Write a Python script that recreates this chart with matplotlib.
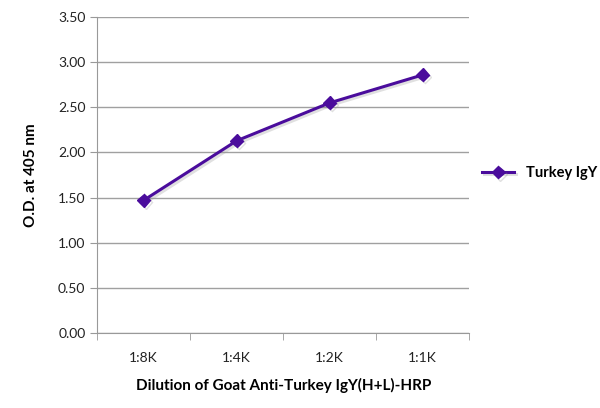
import matplotlib
matplotlib.use('Agg')
import matplotlib.pyplot as plt
import matplotlib.patheffects as pe

dilutions = ['1:8K', '1:4K', '1:2K', '1:1K']
od_405 = [1.47, 2.13, 2.55, 2.86]
series_name = 'Turkey IgY'
y_ticks = [0.0, 0.5, 1.0, 1.5, 2.0, 2.5, 3.0, 3.5]

plt.rcParams['font.family'] = ['Lato', 'DejaVu Sans']

fig = plt.figure(figsize=(6, 4.08), dpi=100)
ax = fig.add_axes([0.162, 0.184, 0.62, 0.774])

purple = '#4a0c9c'
x = range(len(dilutions))
# faint drop shadow, mostly visible around the markers
shadow = [pe.SimpleLineShadow(offset=(1.5, -1.5), shadow_color='#999999', alpha=0.3), pe.Normal()]
ax.plot(x, od_405, color=purple, lw=2.2, marker='D', ms=6.5,
        label=series_name, path_effects=shadow, zorder=3)

ax.set_xlim(-0.5, len(dilutions) - 0.5)
ax.set_ylim(0, 3.5)
ax.set_yticks(y_ticks)
ax.set_yticklabels([f'{v:.2f}' for v in y_ticks])
ax.set_xticks(list(x))
ax.set_xticklabels(dilutions)
ax.set_xticks([i - 0.5 for i in range(len(dilutions) + 1)], minor=True)
ax.tick_params(axis='x', which='major', length=0, pad=14, labelsize=10, colors='#222222')
ax.tick_params(axis='x', which='minor', length=5, color='#999999')
ax.tick_params(axis='y', length=5, color='#999999', labelsize=10, colors='#222222')
ax.yaxis.grid(True, color='#a0a0a0', lw=1)
ax.set_axisbelow(True)
for side in ['top', 'right']:
    ax.spines[side].set_visible(False)
for side in ['left', 'bottom']:
    ax.spines[side].set_color('#999999')

ax.set_ylabel('O.D. at 405 nm', fontsize=11, fontweight='bold', labelpad=14)
ax.set_xlabel('Dilution of Goat Anti-Turkey IgY(H+L)-HRP', fontsize=11, fontweight='bold', labelpad=10)

leg = ax.legend(loc='center left', bbox_to_anchor=(1.0, 0.506), frameon=False,
                prop={'weight': 'bold', 'size': 10.5}, handlelength=2.2)

fig.savefig('out.png', dpi=100)
